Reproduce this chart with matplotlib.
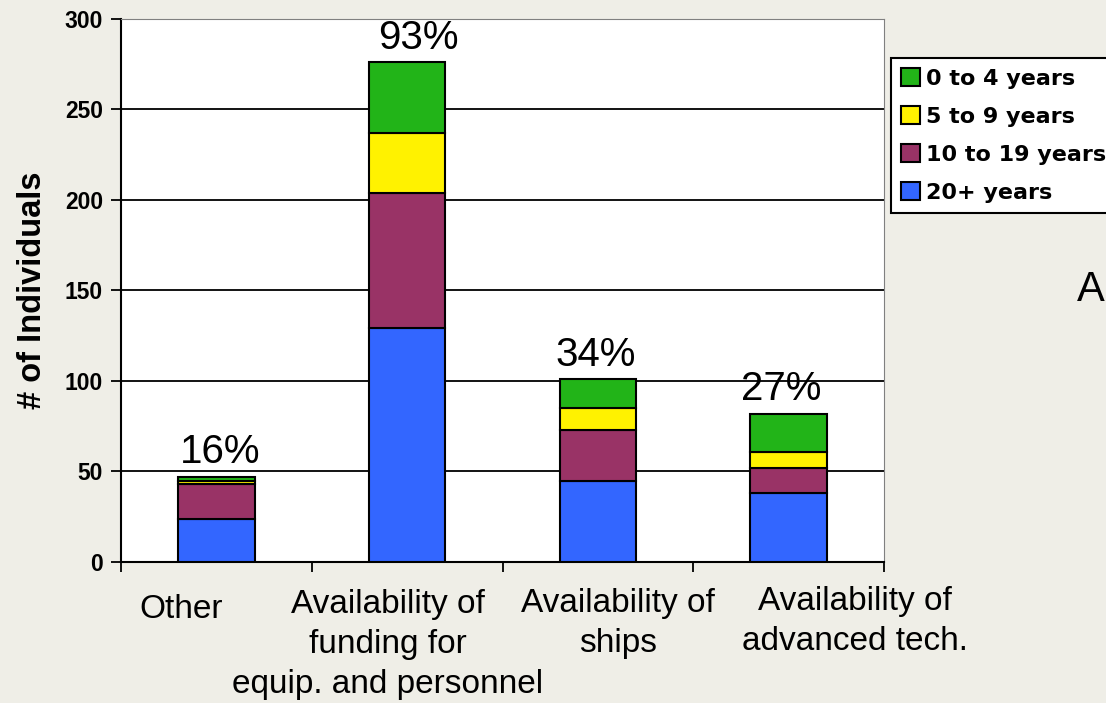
import matplotlib.pyplot as plt
import matplotlib.transforms as mtransforms
import numpy as np

# categories and their wrapped labels
categories = ['Other', 'Availability of\nfunding for\nequip. and personnel',
              'Availability of\nships', 'Availability of\nadvanced tech.']
pct_labels = ['16%', '93%', '34%', '27%']

# stacked counts, bottom to top
yrs_20plus = np.array([24, 129, 45, 38])
yrs_10_19 = np.array([19, 75, 28, 14])
yrs_5_9 = np.array([2, 33, 12, 9])
yrs_0_4 = np.array([2, 39, 16, 21])

series = [('20+ years', yrs_20plus, '#3366ff'),
          ('10 to 19 years', yrs_10_19, '#993366'),
          ('5 to 9 years', yrs_5_9, '#fff200'),
          ('0 to 4 years', yrs_0_4, '#22b418')]

bg = '#efeee7'
fig = plt.figure(figsize=(11.06, 7.03), dpi=100, facecolor=bg)
ax = fig.add_axes([0.1094, 0.2006, 0.6899, 0.7724])
ax.set_facecolor('white')

x = np.arange(len(categories))
bottom = np.zeros(len(categories))
handles = {}
for name, vals, col in series:
    b = ax.bar(x, vals, 0.4, bottom=bottom, color=col, edgecolor='black', lw=1.5, zorder=3)
    handles[name] = b
    bottom = bottom + vals

# grid
for yv in range(50, 300, 50):
    ax.axhline(yv, color='black', lw=1.3, zorder=1)

ax.set_xlim(-0.5, 3.5)
ax.set_ylim(0, 300)
ax.set_yticks(range(0, 301, 50))
ax.tick_params(axis='y', direction='out', length=7, width=1.3, labelsize=16.5, pad=6)
for t in ax.get_yticklabels():
    t.set_fontweight('bold')
    t.set_family('Liberation Sans')
ax.set_xticks(np.arange(-0.5, 3.6, 1.0))
ax.set_xticklabels([])
ax.tick_params(axis='x', direction='out', length=7, width=1.3)

ax.spines['left'].set_linewidth(1.5)
ax.spines['bottom'].set_linewidth(1.5)
ax.spines['top'].set_color('#808080')
ax.spines['right'].set_color('#808080')

ax.set_ylabel('# of Individuals', fontsize=23.5, fontweight='bold', family='Liberation Sans', labelpad=12)

# percentage labels above bars
pct_offsets = [0.02, 0.06, -0.01, -0.04]
for i, lab in enumerate(pct_labels):
    ax.text(x[i] + pct_offsets[i], bottom[i] + 3, lab, ha='center', va='bottom',
            fontsize=29, family='Liberation Sans', zorder=4)

# category labels under the axis, one text per line
trans = mtransforms.blended_transform_factory(ax.transData, fig.transFigure)
cat_x = [-0.186, 0.90, 2.105, 3.348]
cat_y = [0.1337, 0.1408, 0.1422, 0.145]
line_step = 0.057
for i, lab in enumerate(categories):
    for j, line in enumerate(lab.split('\n')):
        ax.text(cat_x[i], cat_y[i] - j * line_step, line, transform=trans, ha='center',
                va='center', fontsize=24, family='Liberation Sans')

order = ['0 to 4 years', '5 to 9 years', '10 to 19 years', '20+ years']
leg = fig.legend([handles[k] for k in order], order, loc='upper left',
                 bbox_to_anchor=(0.806, 0.917), prop={'family': 'DejaVu Sans', 'weight': 'bold', 'size': 16},
                 handlelength=0.85, handleheight=0.85, handletextpad=0.25, labelspacing=0.78,
                 borderpad=0.45, borderaxespad=0, fancybox=False, edgecolor='black', framealpha=1)
leg.get_frame().set_linewidth(1.5)

fig.text(0.974, 0.588, 'A', fontsize=30, family='Liberation Sans', va='center', ha='left')

fig.savefig('out.png', dpi=100, facecolor=bg)
